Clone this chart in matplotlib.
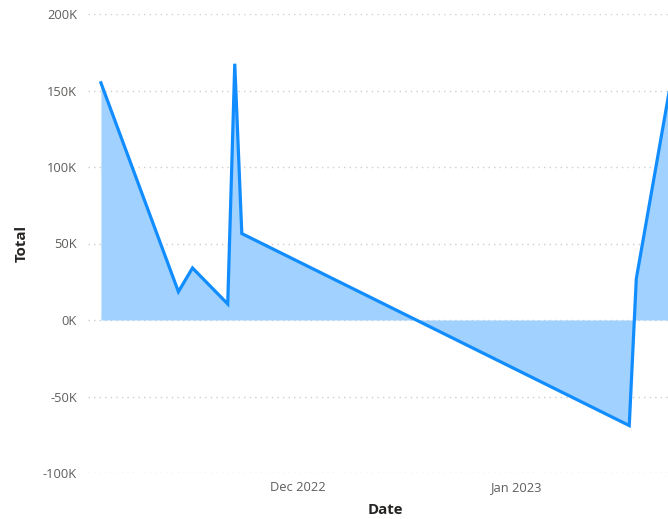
import pandas as pd
import matplotlib.pyplot as plt
import matplotlib.dates as mdates
from matplotlib.ticker import FuncFormatter

plt.rcParams['font.family'] = ['Open Sans', 'DejaVu Sans']

# values (Total in thousands)
dates = ['2022-11-03', '2022-11-14', '2022-11-16', '2022-11-21', '2022-11-22',
         '2022-11-23', '2023-01-17', '2023-01-18', '2023-01-23']
totals = [155, 18.5, 34, 10.5, 167.5, 56.5, -69, 27, 158]
yticks = [-100, -50, 0, 50, 100, 150, 200]
xticks = ['2022-12-01', '2023-01-01']

x = pd.to_datetime(dates)
y = [v * 1000 for v in totals]

fig = plt.figure(figsize=(6.68, 5.19), dpi=100)
ax = fig.add_axes([88 / 668, 1 - 473 / 519, 1 - 88 / 668, (473 - 14) / 519])

ax.fill_between(x, y, 0, color='#A0D1FF', linewidth=0)
ax.plot(x, y, color='#118DFF', linewidth=2.3, solid_joinstyle='miter')

ax.set_ylim(-100000, 200000)
ax.set_yticks([v * 1000 for v in yticks])
ax.yaxis.set_major_formatter(FuncFormatter(lambda v, p: f'{v / 1000:.0f}K'))

ax.set_xlim(pd.Timestamp('2022-11-01 04:00'), pd.Timestamp('2023-01-22 12:00'))
ax.set_xticks(pd.to_datetime(xticks))
ax.xaxis.set_major_formatter(mdates.DateFormatter('%b %Y'))

ax.grid(axis='y', color='#D0CECC', linestyle=(0, (1, 3)), linewidth=1)
ax.set_axisbelow(True)
for s in ax.spines.values():
    s.set_visible(False)
ax.tick_params(axis='both', length=0, labelsize=9.3, labelcolor='#605E5C')
ax.tick_params(axis='y', pad=8)
ax.tick_params(axis='x', pad=6)

ax.set_ylabel('Total', fontsize=10.8, fontweight='bold', color='#252423', labelpad=10)
ax.set_xlabel('Date', fontsize=10.8, fontweight='bold', color='#252423', labelpad=3)
ax.xaxis.set_label_coords((385 - 88) / (668 - 88), -0.065)

plt.savefig('out.png', dpi=100)
